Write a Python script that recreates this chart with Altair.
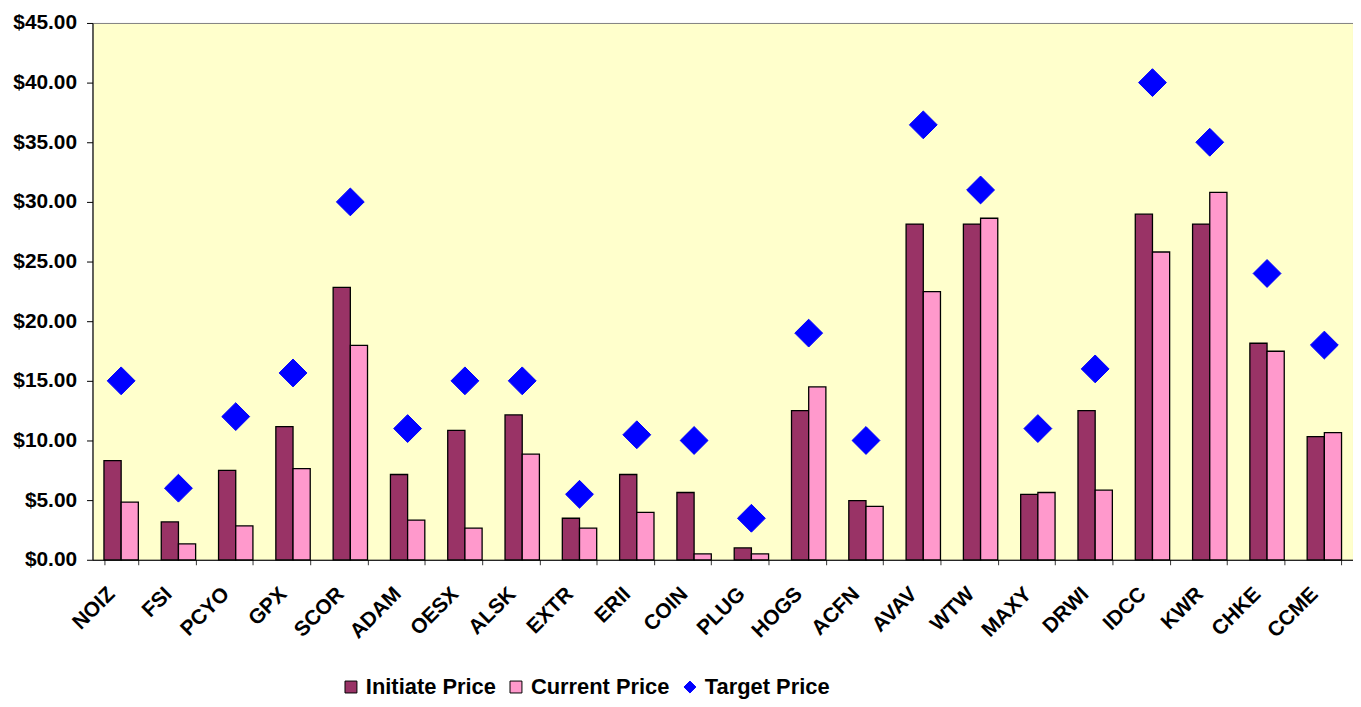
import altair as alt
import pandas as pd

tickers = ["NOIZ", "FSI", "PCYO", "GPX", "SCOR", "ADAM", "OESX", "ALSK", "EXTR", "ERII", "COIN",
           "PLUG", "HOGS", "ACFN", "AVAV", "WTW", "MAXY", "DRWI", "IDCC", "KWR", "CHKE", "CCME"]
initiate = [8.32, 3.17, 7.49, 11.16, 22.84, 7.15, 10.85, 12.14, 3.48, 7.15, 5.64,
            0.99, 12.51, 4.96, 28.14, 28.14, 5.49, 12.51, 28.97, 28.14, 18.15, 10.33]
current = [4.84, 1.33, 2.84, 7.64, 17.97, 3.33, 2.65, 8.85, 2.65, 3.98, 0.49,
           0.49, 14.49, 4.47, 22.47, 28.63, 5.64, 5.83, 25.80, 30.79, 17.48, 10.66]
target = [15.00, 6.00, 12.00, 15.66, 30.00, 11.00, 15.00, 15.00, 5.49, 10.48, 10.00,
          3.48, 19.00, 10.00, 36.46, 31.00, 11.00, 16.00, 40.00, 35.00, 24.00, 18.00]
series_names = ["Initiate Price", "Current Price", "Target Price"]
series_fill = ["#993366", "#FF99CC", "#0000FF"]
series_stroke = ["#000000", "#000000", "#0000FF"]
series_shape = ["square", "square", "diamond"]

n = len(tickers)
bars_df = pd.DataFrame({
    "ticker": tickers * 2,
    "series": [series_names[0]] * n + [series_names[1]] * n,
    "price": initiate + current,
})
target_df = pd.DataFrame({"ticker": tickers, "series": [series_names[2]] * n, "price": target})

FONT = "Liberation Sans"
x_scale = alt.Scale(paddingInner=0.4, paddingOuter=0.2)
y_scale = alt.Scale(domain=[0, 45], nice=False)
color_scale = alt.Scale(domain=series_names, range=series_fill)
stroke_scale = alt.Scale(domain=series_names, range=series_stroke)
shape_scale = alt.Scale(domain=series_names, range=series_shape)

legend = alt.Legend(title=None, orient="none", legendX=249, legendY=657, direction="horizontal",
                    labelFont=FONT, labelFontSize=22, labelFontWeight="bold", labelColor="black",
                    symbolSize=144, symbolStrokeWidth=1, labelOffset=4, columnPadding=9, padding=0)

x_axis = alt.Axis(title=None, labelAngle=315, labelAlign="right", labelBaseline="middle",
                  labelFont=FONT, labelFontSize=21, labelFontWeight="bold", labelColor="black",
                  labelPadding=26, labelOffset=-10, tickBand="extent", tickSize=5,
                  tickColor="#333333", domainColor="#000000", labelOverlap=False)
y_axis = alt.Axis(title=None, values=list(range(0, 50, 5)), format="$.2f",
                  labelFont=FONT, labelFontSize=21, labelFontWeight="bold", labelColor="black",
                  labelPadding=10, tickSize=6, tickColor="#000000", domainColor="#000000", grid=False)

bars = alt.Chart(bars_df).mark_bar(strokeWidth=1.3).encode(
    x=alt.X("ticker:N", sort=tickers, scale=x_scale, axis=x_axis),
    xOffset=alt.XOffset("series:N", sort=series_names[:2],
                        scale=alt.Scale(domain=series_names[:2], paddingInner=0, paddingOuter=0)),
    y=alt.Y("price:Q", scale=y_scale, axis=y_axis),
    color=alt.Color("series:N", scale=color_scale, legend=legend),
    stroke=alt.Stroke("series:N", scale=stroke_scale, legend=legend),
)

points = alt.Chart(target_df).mark_point(filled=True, size=784, opacity=1, strokeWidth=1).encode(
    x=alt.X("ticker:N", sort=tickers, scale=x_scale, axis=x_axis),
    y=alt.Y("price:Q", scale=y_scale, axis=y_axis),
    color=alt.Color("series:N", scale=color_scale, legend=legend),
    stroke=alt.Stroke("series:N", scale=stroke_scale, legend=legend),
    shape=alt.Shape("series:N", scale=shape_scale, legend=legend),
)

chart = alt.layer(bars, points).properties(
    width=1268, height=540,
    autosize=alt.AutoSizeParams(type="none"),
    padding={"left": 85, "top": 13, "right": 0, "bottom": 138},
    background="white",
).configure_view(fill="#FFFFCC", stroke="#808080", strokeWidth=1)

chart.save("out.html", embed_options={"renderer": "svg", "actions": False})
